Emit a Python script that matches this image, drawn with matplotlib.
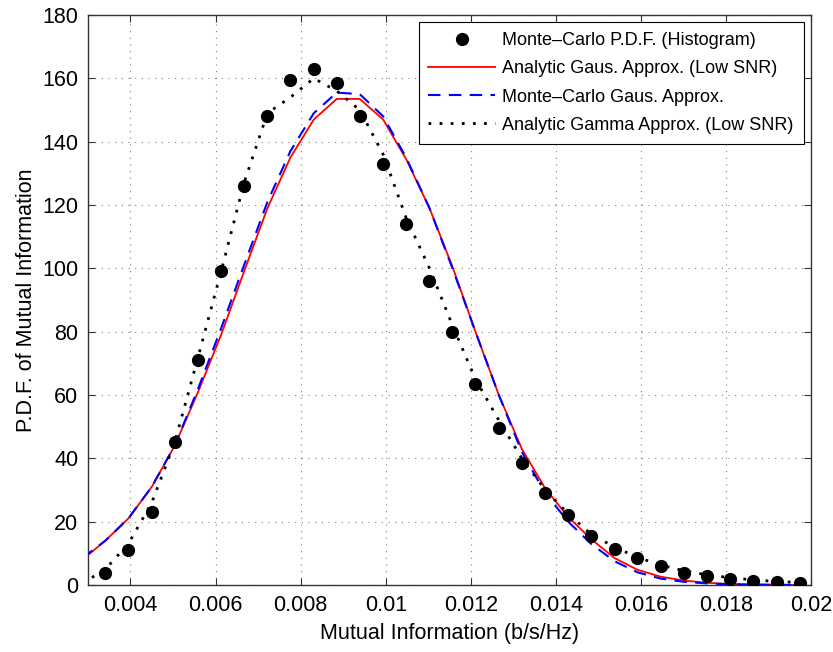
import matplotlib
matplotlib.use("Agg")
import matplotlib.pyplot as plt

plt.rcParams['font.family'] = ['Liberation Sans', 'DejaVu Sans']

# histogram bin centres (b/s/Hz)
bin_x = [0.00341, 0.00395, 0.00450, 0.00504, 0.00559, 0.00613, 0.00667, 0.00722,
         0.00776, 0.00831, 0.00885, 0.00939, 0.00994, 0.01048, 0.01103, 0.01157,
         0.01211, 0.01266, 0.01320, 0.01375, 0.01429, 0.01483, 0.01538, 0.01592,
         0.01647, 0.01701, 0.01755, 0.01810, 0.01864, 0.01919, 0.01973]
mc_pdf = [3.8, 11, 23, 45, 71, 99, 126, 148, 159.5, 163, 158.5, 148, 133, 114, 96,
          80, 63.5, 49.5, 38.5, 29, 22, 15.5, 11.5, 8.5, 6, 3.8, 2.8, 1.9, 1.3, 1.0, 0.7]

# curves are evaluated on one extra point to the left
line_x = [0.00287] + bin_x
gaus_analytic = [8, 14, 21, 31, 44, 61, 79, 99, 119, 135, 147, 153.5, 153.5, 147, 134.5,
                 119, 100.5, 80, 60, 43, 30.5, 21.5, 14.5, 8.5, 4.8, 2.6, 1.4, 0.7, 0.3,
                 0.15, 0.05, 0.02]
gaus_mc = [8.5, 14, 21, 31, 44, 62, 81, 101, 121, 137, 149, 155.5, 155, 148, 135, 119,
           100, 80, 60, 42, 29, 20, 13, 7.5, 4, 2, 1, 0.5, 0.2, 0.1, 0.05, 0.02]
gamma_analytic = [0.5, 5, 13, 26, 45, 72, 99, 127, 149, 154, 160, 156, 150, 136, 116,
                  100, 82, 65, 52, 40, 30, 22.5, 16, 12, 8.7, 6.3, 4.5, 3.2, 2.3, 1.6,
                  1.1, 0.8]

xticks = [0.004, 0.006, 0.008, 0.01, 0.012, 0.014, 0.016, 0.018, 0.02]
xtick_labels = ['0.004', '0.006', '0.008', '0.01', '0.012', '0.014', '0.016', '0.018', '0.02']
yticks = [0, 20, 40, 60, 80, 100, 120, 140, 160, 180]

fig = plt.figure(figsize=(8.33, 6.52), dpi=100)
ax = fig.add_axes([0.1056, 0.1028, 0.868, 0.8742])

ax.plot(bin_x, mc_pdf, 'o', color='black', markersize=8.5, zorder=5,
        label='Monte\u2013Carlo P.D.F. (Histogram)')
ax.plot(line_x, gaus_analytic, '-', color='red', linewidth=1.3, zorder=3,
        label='Analytic Gaus. Approx. (Low SNR)')
ax.plot(line_x, gaus_mc, '--', color='blue', linewidth=1.5, dashes=(6, 4), zorder=4,
        label='Monte\u2013Carlo Gaus. Approx.')
ax.plot(line_x, gamma_analytic, ':', color='black', linewidth=2.0, dashes=(1, 3),
        zorder=4, label='Analytic Gamma Approx. (Low SNR)')

ax.set_xlim(0.003, 0.02)
ax.set_ylim(0, 180)
ax.set_xticks(xticks)
ax.set_xticklabels(xtick_labels)
ax.set_yticks(yticks)

ax.grid(True, color='#808080', linestyle=(0, (1, 5)), linewidth=0.8)
ax.tick_params(direction='in', top=True, right=True, length=5, width=0.8,
               labelsize=15.5, pad=7, colors='#333333', labelcolor='black')
for s in ax.spines.values():
    s.set_color('#333333')
    s.set_linewidth(1.0)

ax.set_xlabel('Mutual Information (b/s/Hz)', fontsize=15.5, labelpad=5)
ax.set_ylabel('P.D.F. of Mutual Information', fontsize=15.5, labelpad=4)

leg = ax.legend(loc='upper right', fontsize=13, fancybox=False, framealpha=1,
                edgecolor='black', handlelength=3.7, handletextpad=0.4,
                labelspacing=0.62, borderaxespad=0.4, borderpad=0.55)
leg.get_frame().set_linewidth(0.8)

fig.savefig('out.png', dpi=100)
